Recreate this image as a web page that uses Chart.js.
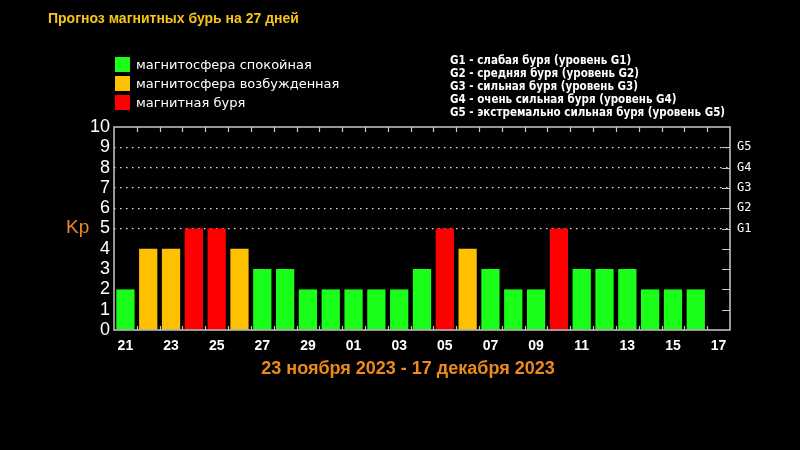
<!DOCTYPE html>
<html>
<head>
<meta charset="utf-8">
<script src="https://cdn.jsdelivr.net/npm/chart.js"></script>
<style>
  body { margin: 0; background: #000; }
  #wrap { position: relative; width: 800px; height: 450px; background: #000; overflow: hidden; }
  #myChart { position: absolute; left: 0; top: 0; }
  .txt { position: absolute; white-space: nowrap; }
  #title { left: 48px; top: 10px; color: #f5c518; font: bold 14px "Liberation Sans", Arial, sans-serif; }
  .leg { left: 115px; color: #fff; font: 13px "DejaVu Sans", sans-serif; line-height: 16px; }
  .leg span { display: inline-block; width: 15px; height: 15px; margin-right: 6px; vertical-align: -3px; }
  #glist { left: 450px; top: 54px; color: #fff; font: bold 11.5px "DejaVu Sans Condensed", "DejaVu Sans", sans-serif; line-height: 13px; }
  #kp { left: 66px; top: 216px; color: #e8892a; font: 19px "Liberation Sans", sans-serif; }
  #range { left: 0; width: 816px; text-align: center; top: 358px; color: #ee8a1a; font: bold 18px "Liberation Sans", sans-serif; }
</style>
</head>
<body>
<div id="wrap">
  <canvas id="myChart" width="800" height="450"></canvas>
  <div class="txt" id="title">Прогноз магнитных бурь на 27 дней</div>
  <div class="txt leg" style="top:57px"><span style="background:#1aff1a"></span>магнитосфера спокойная</div>
  <div class="txt leg" style="top:76px"><span style="background:#ffc000"></span>магнитосфера возбужденная</div>
  <div class="txt leg" style="top:95px"><span style="background:#ff0000"></span>магнитная буря</div>
  <div class="txt" id="glist">
    G1 - слабая буря (уровень G1)<br>
    G2 - средняя буря (уровень G2)<br>
    G3 - сильная буря (уровень G3)<br>
    G4 - очень сильная буря (уровень G4)<br>
    G5 - экстремально сильная буря (уровень G5)
  </div>
  <div class="txt" id="kp">Kp</div>
  <div class="txt" id="range">23 ноября 2023 - 17 декабря 2023</div>
</div>
<script>
// дни: 21 ноября - 17 декабря
var days = ["21","22","23","24","25","26","27","28","29","30",
            "01","02","03","04","05","06","07","08","09","10",
            "11","12","13","14","15","16","17"];
var kpValues = [2, 4, 4, 5, 5, 4, 3, 3, 2, 2,
                2, 2, 2, 3, 5, 4, 3, 2, 2, 5,
                3, 3, 3, 2, 2, 2, null];
var yTicks = [0, 1, 2, 3, 4, 5, 6, 7, 8, 9, 10];
var gLevels = {5: "G1", 6: "G2", 7: "G3", 8: "G4", 9: "G5"};

var green = "#1aff1a", yellow = "#ffc000", red = "#ff0000";
var barColors = kpValues.map(v => v >= 5 ? red : (v == 4 ? yellow : green));

// рамка и внутренние засечки
var framePlugin = {
  id: "frame",
  afterDraw(chart) {
    var ctx = chart.ctx, a = chart.chartArea;
    var x = chart.scales.x, y = chart.scales.y;
    ctx.save();
    ctx.strokeStyle = "#c8c8c8";
    ctx.lineWidth = 1.5;
    ctx.strokeRect(a.left, a.top, a.right - a.left, a.bottom - a.top);
    ctx.lineWidth = 1.2;
    ctx.beginPath();
    for (var i = 1; i < days.length; i++) {
      var px = Math.round(x.getPixelForValue(i - 0.5)) + 0.5;
      ctx.moveTo(px, a.top); ctx.lineTo(px, a.top + 5);
      ctx.moveTo(px, a.bottom); ctx.lineTo(px, a.bottom - 4);
    }
    yTicks.forEach(function (t) {
      if (t == 0 || t == 10) return;
      var py = Math.round(y.getPixelForValue(t)) + 0.5;
      ctx.moveTo(a.right, py); ctx.lineTo(a.right - 8, py);
    });
    ctx.stroke();
    ctx.restore();
  }
};

new Chart("myChart", {
  type: "bar",
  data: {
    labels: days,
    datasets: [{
      data: kpValues,
      backgroundColor: barColors,
      barPercentage: 0.8,
      categoryPercentage: 1.0
    }]
  },
  options: {
    responsive: false,
    animation: false,
    layout: { padding: { top: 127, left: 0, right: 0, bottom: 0 } },
    plugins: { legend: { display: false }, tooltip: { enabled: false } },
    scales: {
      x: {
        offset: true,
        grid: { display: false },
        border: { display: false },
        ticks: {
          autoSkip: false,
          maxRotation: 0,
          color: "#fff",
          padding: 0,
          font: { family: "Liberation Sans", size: 14, weight: "bold" },
          callback: function (v, i) { return i % 2 == 0 ? days[i] : ""; }
        },
        afterFit: function (s) { s.height = 120; }
      },
      y: {
        min: 0, max: 10,
        afterBuildTicks: function (s) { s.ticks = yTicks.map(v => ({ value: v })); },
        grid: {
          color: function (c) { return c.tick.value >= 5 && c.tick.value <= 9 ? "#e0e0e0" : "rgba(0,0,0,0)"; },
          lineWidth: 1.2,
          drawTicks: false
        },
        border: { display: false, dash: [1.5, 4.5] },
        ticks: {
          autoSkip: false,
          color: "#fff",
          padding: 4,
          font: { family: "Liberation Sans", size: 18 }
        },
        afterFit: function (s) { s.width = 114; }
      },
      y2: {
        position: "right",
        min: 0, max: 10,
        afterBuildTicks: function (s) { s.ticks = yTicks.map(v => ({ value: v })); },
        grid: { drawOnChartArea: false, drawTicks: false },
        border: { display: false },
        ticks: {
          autoSkip: false,
          color: "#fff",
          padding: 7,
          font: { family: "DejaVu Sans Mono", size: 12 },
          callback: function (v) { return gLevels[v] || ""; }
        },
        afterFit: function (s) { s.width = 70; }
      }
    }
  },
  plugins: [framePlugin]
});
</script>
</body>
</html>
